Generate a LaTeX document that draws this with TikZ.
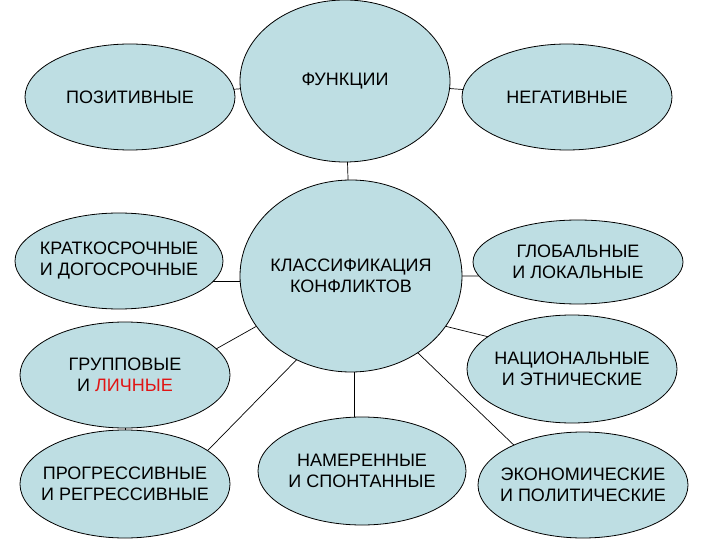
\documentclass[tikz,border=0pt]{standalone}
\usepackage{fontspec}
\setmainfont{Liberation Sans}
\usetikzlibrary{shapes.geometric}
\definecolor{fillc}{RGB}{190,222,227}
\definecolor{redtxt}{RGB}{225,20,20}
\begin{document}
\begin{tikzpicture}[x=1bp,y=-1bp,
  bub/.style={ellipse, draw=black, line width=0.8bp, fill=fillc, inner sep=0pt, outer sep=0pt},
  lbl/.style={align=center, inner sep=0pt, font=\fontsize{18bp}{21bp}\selectfont},
  conn/.style={draw=black, line width=0.7bp}]
\useasboundingbox (0,0) rectangle (720,540);
% bubbles
\node[bub, minimum width=210bp, minimum height=162bp] (fun) at (345,81) {};
\node[bub, minimum width=210bp, minimum height=106bp] (poz) at (130,97) {};
\node[bub, minimum width=210bp, minimum height=106bp] (neg) at (567,97) {};
\node[bub, minimum width=222bp, minimum height=192bp] (cls) at (351,276) {};
\node[bub, minimum width=208bp, minimum height=96bp] (kra) at (119,261) {};
\node[bub, minimum width=210bp, minimum height=84bp] (glo) at (578,262) {};
\node[bub, minimum width=210bp, minimum height=106bp] (gru) at (125,375) {};
\node[bub, minimum width=210bp, minimum height=108bp] (nat) at (572,369) {};
\node[bub, minimum width=210bp, minimum height=108bp] (pro) at (125,484) {};
\node[bub, minimum width=208bp, minimum height=108bp] (nam) at (362,471) {};
\node[bub, minimum width=210bp, minimum height=106bp] (eko) at (583,485) {};
% texts
\node[lbl] (tfun) at (fun.center) {ФУНКЦИИ};
\node[lbl] (tpoz) at (poz.center) {ПОЗИТИВНЫЕ};
\node[lbl] (tneg) at (neg.center) {НЕГАТИВНЫЕ};
\node[lbl] (tcls) at (cls.center) {КЛАССИФИКАЦИЯ\\КОНФЛИКТОВ};
\node[lbl] (tkra) at (kra.center) {КРАТКОСРОЧНЫЕ\\И ДОГОСРОЧНЫЕ};
\node[lbl] (tglo) at (glo.center) {ГЛОБАЛЬНЫЕ\\И ЛОКАЛЬНЫЕ};
\node[lbl] (tgru) at (gru.center) {ГРУППОВЫЕ\\И \textcolor{redtxt}{ЛИЧНЫЕ}};
\node[lbl] (tnat) at (nat.center) {НАЦИОНАЛЬНЫЕ\\И ЭТНИЧЕСКИЕ};
\node[lbl] (tpro) at (pro.center) {ПРОГРЕССИВНЫЕ\\И РЕГРЕССИВНЫЕ};
\node[lbl] (tnam) at (nam.center) {НАМЕРЕННЫЕ\\И СПОНТАННЫЕ};
\node[lbl] (teko) at (eko.center) {ЭКОНОМИЧЕСКИЕ\\И ПОЛИТИЧЕСКИЕ};
% connectors
\draw[conn] (poz) -- (fun);
\draw[conn] (fun) -- (neg);
\draw[conn] (fun) -- (cls);
\draw[conn] (kra.-12) -- (kra.-12 -| cls.west);
\draw[conn] (cls.east) -- (glo.188);
\draw[conn] (cls.208.7) -- (gru.16.2);
\draw[conn] (gru) -- (pro);
\draw[conn] (cls.237.9) -- (pro.22.5);
\draw[conn] (cls.272) -- (cls.272 |- nam.north);
\draw[conn] (cls.-28.5) -- (nat.159.8);
\draw[conn] (cls.-49.4) -- (eko.150.8);
\end{tikzpicture}
\end{document}
